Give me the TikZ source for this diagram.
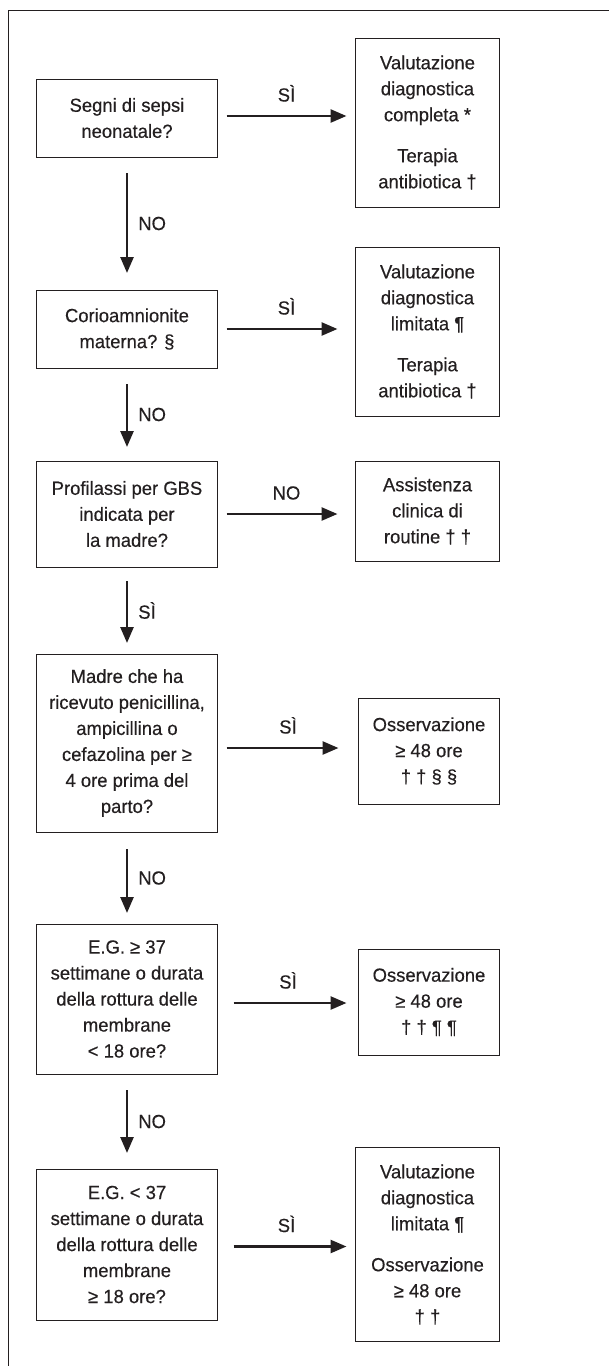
\documentclass[tikz,border=0pt]{standalone}
\usepackage{fontspec}
\setmainfont{Liberation Sans}[FakeStretch=0.97,FakeBold=0.4]
\usepackage{tikz}
\usetikzlibrary{arrows.meta,positioning}
\definecolor{ink}{HTML}{231F20}
\tikzset{
	box/.style={draw=ink,line width=1pt,outer sep=0pt,inner sep=2pt,align=center,
		font=\fontsize{19}{26}\selectfont},
	qbox/.style={box,minimum width=181pt},
	abox/.style={box,minimum width=144pt},
	ar/.style={draw=ink,line width=2.6pt,-{Triangle[length=16pt,width=13pt]}},
	lbl/.style={font=\fontsize{19}{26}\selectfont,text=ink,inner sep=0pt}
}

\begin{document}
\begin{tikzpicture}[x=1pt,y=1pt,node distance=138pt,text=ink]
      \useasboundingbox (0,0) rectangle (609,-1366);
      \draw[ink,line width=1pt] (609,-10) -- (8,-10) -- (8,-1366);
      % questions, left column
      \node [qbox,minimum height=78pt] (q1) at (127,-118) {Segni di sepsi\\neonatale?};
      \node [qbox,minimum height=78pt,below=133pt of q1] (q2) {Corioamnionite\\materna? §};
      \node [qbox,minimum height=106pt,below=93pt of q2] (q3) {Profilassi per GBS\\indicata per\\la madre?};
      \node [qbox,minimum height=178pt,below=87pt of q3] (q4) {Madre che ha\\ricevuto penicillina,\\ampicillina o\\cefazolina per ≥\\4 ore prima del\\parto?};
      \node [qbox,minimum height=150pt,below=92pt of q4] (q5) {E.G. ≥ 37\\settimane o durata\\della rottura delle\\membrane\\< 18 ore?};
      \node [qbox,minimum height=151pt,below=95pt of q5] (q6) {E.G. < 37\\settimane o durata\\della rottura delle\\membrane\\≥ 18 ore?};
      % answers, right column
      \node [abox,minimum height=169pt,right=of q1,yshift=-4.5pt] (a1) {Valutazione\\diagnostica\\completa *\\[15pt]Terapia\\antibiotica †};
      \node [abox,minimum height=169pt,right=of q2,yshift=-2.5pt] (a2) {Valutazione\\diagnostica\\limitata ¶\\[15pt]Terapia\\antibiotica †};
      \node [abox,minimum height=100pt,right=of q3,yshift=3pt] (a3) {Assistenza\\clinica di\\routine † †};
      \node [abox,minimum width=141pt,minimum height=106pt,right=141pt of q4,yshift=-8pt] (a4) {Osservazione\\≥ 48 ore\\† † § §};
      \node [abox,minimum width=141pt,minimum height=106pt,right=141pt of q5,yshift=-3pt] (a5) {Osservazione\\≥ 48 ore\\† † ¶ ¶};
      \node [abox,minimum height=194pt,right=of q6] (a6) {Valutazione\\diagnostica\\limitata ¶\\[15pt]Osservazione\\≥ 48 ore\\† †};
      % horizontal arrows
      \draw [ar,shorten <=9pt,shorten >=9pt] ([yshift=2pt]q1.east) -- ([yshift=2pt]q1.east -| a1.west) node [lbl,midway,above=13pt] {SÌ};
      \draw [ar,shorten <=9pt,shorten >=18pt] (q2.east) -- (q2.east -| a2.west) node [lbl,midway,above=13pt] {SÌ};
      \draw [ar,shorten <=9pt,shorten >=18pt] (q3.east) -- (q3.east -| a3.west) node [lbl,midway,above=13pt] {NO};
      \draw [ar,shorten <=9pt,shorten >=20pt] ([yshift=-5pt]q4.east) -- ([yshift=-5pt]q4.east -| a4.west) node [lbl,midway,above=13pt] {SÌ};
      \draw [ar,shorten <=16pt,shorten >=12pt] ([yshift=-4pt]q5.east) -- ([yshift=-4pt]q5.east -| a5.west) node [lbl,midway,above=13pt] {SÌ};
      \draw [ar,shorten <=16pt,shorten >=9pt] ([yshift=-2pt]q6.east) -- ([yshift=-2pt]q6.east -| a6.west) node [lbl,midway,above=13pt] {SÌ};
      % vertical arrows
      \draw [ar,shorten <=16pt,shorten >=17pt] (q1) -- (q2) node [lbl,midway,right=10pt] {NO};
      \draw [ar,shorten <=16pt,shorten >=14pt] (q2) -- (q3) node [lbl,midway,right=10pt] {NO};
      \draw [ar,shorten <=14pt,shorten >=11pt] (q3) -- (q4) node [lbl,midway,right=10pt] {SÌ};
      \draw [ar,shorten <=17pt,shorten >=11pt] (q4) -- (q5) node [lbl,midway,right=10pt] {NO};
      \draw [ar,shorten <=16pt,shorten >=16pt] (q5) -- (q6) node [lbl,midway,right=10pt] {NO};
   \end{tikzpicture}
\end{document}
